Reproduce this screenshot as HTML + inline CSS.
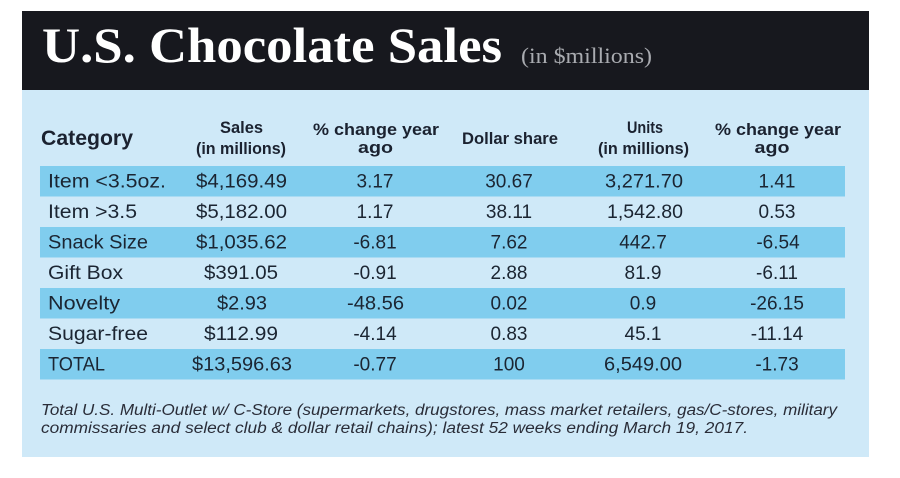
<!DOCTYPE html>
<html><head><meta charset="utf-8"><style>
html,body{margin:0;padding:0;background:#fff;width:900px;height:478px;overflow:hidden}
svg{display:block}
.h{font-family:"Liberation Sans",sans-serif;font-weight:bold;fill:#1b2230;text-anchor:middle}
.d{font-family:"Liberation Sans",sans-serif;font-size:19px;fill:#1b2532;text-anchor:middle}
.l{font-family:"Liberation Sans",sans-serif;font-size:19px;fill:#1b2532}
.f{font-family:"Liberation Sans",sans-serif;font-size:15.5px;font-style:italic;fill:#2a2d38}
</style></head><body>
<svg width="900" height="478" viewBox="0 0 900 478" xmlns="http://www.w3.org/2000/svg">
<rect x="0" y="0" width="900" height="478" fill="#ffffff"/>
<rect x="22" y="90" width="847" height="367" fill="#cfe9f8"/>
<rect x="22" y="11" width="847" height="79" fill="#17181e"/>
<text x="42" y="62" font-family="'Liberation Serif',serif" font-weight="bold" font-size="50" fill="#ffffff" textLength="460" lengthAdjust="spacingAndGlyphs">U.S. Chocolate Sales</text>
<text x="521" y="63" font-family="'Liberation Serif',serif" font-size="22" fill="#a9abb0" textLength="131" lengthAdjust="spacingAndGlyphs">(in $millions)</text>

<rect x="40" y="166" width="805" height="30.5" fill="#80cdee"/>
<rect x="40" y="227" width="805" height="30.5" fill="#80cdee"/>
<rect x="40" y="288" width="805" height="30.5" fill="#80cdee"/>
<rect x="40" y="349" width="805" height="30.5" fill="#80cdee"/>

<text x="41" y="145" class="h" font-size="21" style="text-anchor:start" textLength="92" lengthAdjust="spacingAndGlyphs">Category</text>
<text x="241.5" y="133" class="h" font-size="17" textLength="43" lengthAdjust="spacingAndGlyphs">Sales</text>
<text x="241" y="154" class="h" font-size="17" textLength="90" lengthAdjust="spacingAndGlyphs">(in millions)</text>
<text x="376" y="135" class="h" font-size="17" textLength="126" lengthAdjust="spacingAndGlyphs">% change year</text>
<text x="375.5" y="153" class="h" font-size="17" textLength="35" lengthAdjust="spacingAndGlyphs">ago</text>
<text x="510" y="144" class="h" font-size="17" textLength="96" lengthAdjust="spacingAndGlyphs">Dollar share</text>
<text x="645" y="133" class="h" font-size="17" textLength="36" lengthAdjust="spacingAndGlyphs">Units</text>
<text x="643.5" y="154" class="h" font-size="17" textLength="91" lengthAdjust="spacingAndGlyphs">(in millions)</text>
<text x="778" y="135" class="h" font-size="17" textLength="126" lengthAdjust="spacingAndGlyphs">% change year</text>
<text x="772" y="153" class="h" font-size="17" textLength="35" lengthAdjust="spacingAndGlyphs">ago</text>

<g>
<text x="48" y="187.5" class="l" textLength="118" lengthAdjust="spacingAndGlyphs">Item &lt;3.5oz.</text>
<text x="241.5" y="187.5" class="d" textLength="91" lengthAdjust="spacingAndGlyphs">$4,169.49</text>
<text x="375" y="187.5" class="d">3.17</text>
<text x="509" y="187.5" class="d">30.67</text>
<text x="644" y="187.5" class="d" textLength="78" lengthAdjust="spacingAndGlyphs">3,271.70</text>
<text x="777" y="187.5" class="d">1.41</text>
</g>
<g>
<text x="48" y="218" class="l" textLength="89" lengthAdjust="spacingAndGlyphs">Item &gt;3.5</text>
<text x="241.5" y="218" class="d" textLength="91" lengthAdjust="spacingAndGlyphs">$5,182.00</text>
<text x="375" y="218" class="d">1.17</text>
<text x="509" y="218" class="d">38.11</text>
<text x="645" y="218" class="d" textLength="76" lengthAdjust="spacingAndGlyphs">1,542.80</text>
<text x="777" y="218" class="d">0.53</text>
</g>
<g>
<text x="48" y="248.5" class="l" textLength="100" lengthAdjust="spacingAndGlyphs">Snack Size</text>
<text x="241.5" y="248.5" class="d" textLength="91" lengthAdjust="spacingAndGlyphs">$1,035.62</text>
<text x="375" y="248.5" class="d">-6.81</text>
<text x="509" y="248.5" class="d">7.62</text>
<text x="643" y="248.5" class="d">442.7</text>
<text x="778" y="248.5" class="d">-6.54</text>
</g>
<g>
<text x="48" y="279" class="l" textLength="75" lengthAdjust="spacingAndGlyphs">Gift Box</text>
<text x="241" y="279" class="d" textLength="74" lengthAdjust="spacingAndGlyphs">$391.05</text>
<text x="375" y="279" class="d">-0.91</text>
<text x="509" y="279" class="d">2.88</text>
<text x="643" y="279" class="d">81.9</text>
<text x="777" y="279" class="d">-6.11</text>
</g>
<g>
<text x="48" y="309.5" class="l" textLength="72" lengthAdjust="spacingAndGlyphs">Novelty</text>
<text x="242" y="309.5" class="d" textLength="50" lengthAdjust="spacingAndGlyphs">$2.93</text>
<text x="375.5" y="309.5" class="d" textLength="57" lengthAdjust="spacingAndGlyphs">-48.56</text>
<text x="509" y="309.5" class="d">0.02</text>
<text x="643" y="309.5" class="d">0.9</text>
<text x="777" y="309.5" class="d">-26.15</text>
</g>
<g>
<text x="48" y="340" class="l" textLength="100" lengthAdjust="spacingAndGlyphs">Sugar-free</text>
<text x="241" y="340" class="d" textLength="74" lengthAdjust="spacingAndGlyphs">$112.99</text>
<text x="375" y="340" class="d">-4.14</text>
<text x="509" y="340" class="d">0.83</text>
<text x="643" y="340" class="d">45.1</text>
<text x="777" y="340" class="d">-11.14</text>
</g>
<g>
<text x="48" y="370.5" class="l" textLength="57" lengthAdjust="spacingAndGlyphs">TOTAL</text>
<text x="242" y="370.5" class="d" textLength="100" lengthAdjust="spacingAndGlyphs">$13,596.63</text>
<text x="375" y="370.5" class="d">-0.77</text>
<text x="509" y="370.5" class="d">100</text>
<text x="643" y="370.5" class="d" textLength="78" lengthAdjust="spacingAndGlyphs">6,549.00</text>
<text x="777" y="370.5" class="d">-1.73</text>
</g>

<text x="41" y="415" class="f" textLength="796" lengthAdjust="spacingAndGlyphs">Total U.S. Multi-Outlet w/ C-Store (supermarkets, drugstores, mass market retailers, gas/C-stores, military</text>
<text x="41" y="433" class="f" textLength="707" lengthAdjust="spacingAndGlyphs">commissaries and select club &amp; dollar retail chains); latest 52 weeks ending March 19, 2017.</text>
</svg>
</body></html>
